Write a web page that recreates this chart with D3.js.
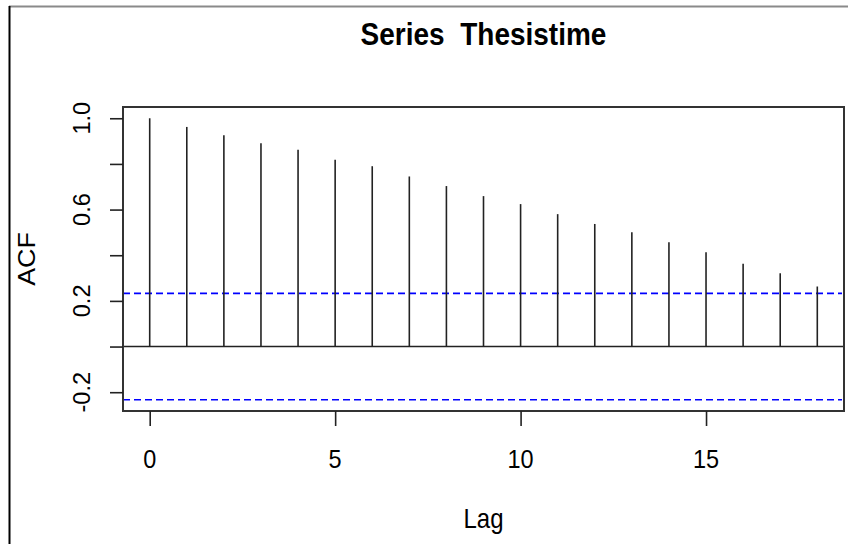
<!DOCTYPE html>
<head>
<title>Series Thesistime</title>
<meta charset="utf-8">
</head>

<style>
body { margin: 0; background: white; }
svg { display: block; }
text { font-family: "Liberation Sans", Arial, sans-serif; fill: #000; }
</style>

<body>
<script src="https://d3js.org/d3.v7.min.js"></script>
<script>

// ACF values
var lags = [0, 1, 2, 3, 4, 5, 6, 7, 8, 9, 10, 11, 12, 13, 14, 15, 16, 17, 18];
var acf  = [1.000, 0.962, 0.926, 0.890, 0.862, 0.818, 0.790, 0.745, 0.703, 0.659,
            0.624, 0.580, 0.537, 0.501, 0.457, 0.413, 0.363, 0.321, 0.263];
var ciLevel = 0.233;
var xTicks = [0, 5, 10, 15];
var yTicks = [-0.2, 0, 0.2, 0.4, 0.6, 0.8, 1.0];
var yLabels = [-0.2, 0.2, 0.6, 1.0];

var width = 848, height = 544;
var box = { left: 123, right: 844, top: 107, bottom: 411 };
var stretch = 1.12; // the screenshot is a bit taller than wide

var svg = d3.select("body")
  .append("svg")
  .attr("width", width)
  .attr("height", height);

// frame of the screenshot
svg.append("line")
  .attr("x1", 9).attr("x2", width).attr("y1", 6.5).attr("y2", 6.5)
  .style("stroke", "#8a8a8a").style("stroke-width", 2);
svg.append("line")
  .attr("x1", 9.5).attr("x2", 9.5).attr("y1", 6).attr("y2", height)
  .style("stroke", "#000").style("stroke-width", 2);

// R style 4% padding on both axes
var xr = [0, 18], yr = [-ciLevel, 1];
var xpad = (xr[1] - xr[0]) * 0.04, ypad = (yr[1] - yr[0]) * 0.04;

var x = d3.scaleLinear()
  .domain([xr[0] - xpad, xr[1] + xpad])
  .range([box.left, box.right]);

var y = d3.scaleLinear()
  .domain([yr[0] - ypad, yr[1] + ypad])
  .range([box.bottom, box.top]);

// confidence bands
svg.append("g")
  .selectAll("line")
  .data([ciLevel, -ciLevel])
  .enter().append("line")
  .attr("x1", box.left).attr("x2", box.right - 2)
  .attr("y1", function(d) { return y(d); })
  .attr("y2", function(d) { return y(d); })
  .style("stroke", "#0000ff")
  .style("stroke-width", 1.6)
  .style("stroke-dasharray", "7,4");

// zero line
svg.append("line")
  .attr("x1", box.left).attr("x2", box.right)
  .attr("y1", y(0)).attr("y2", y(0))
  .style("stroke", "#222").style("stroke-width", 1.6);

// spikes
svg.append("g")
  .selectAll("line")
  .data(lags)
  .enter().append("line")
  .attr("x1", function(d) { return x(d); })
  .attr("x2", function(d) { return x(d); })
  .attr("y1", y(0))
  .attr("y2", function(d, i) { return y(acf[i]); })
  .style("stroke", "#222")
  .style("stroke-width", 1.6);

// plot box
svg.append("rect")
  .attr("x", box.left).attr("y", box.top)
  .attr("width", box.right - box.left)
  .attr("height", box.bottom - box.top)
  .style("fill", "none")
  .style("stroke", "#333")
  .style("stroke-width", 2);

// x axis
var xAxis = svg.append("g")
  .attr("transform", "translate(0," + box.bottom + ")")
  .call(d3.axisBottom(x).tickValues(xTicks).tickSize(15).tickFormat(""));
xAxis.select(".domain").remove();
xAxis.selectAll(".tick line").style("stroke", "#222").style("stroke-width", 1.6);

svg.append("g")
  .selectAll("text")
  .data(xTicks)
  .enter().append("text")
  .attr("transform", function(d) { return "translate(" + x(d) + ",468) scale(1," + stretch + ")"; })
  .attr("text-anchor", "middle")
  .style("font-size", "23.5px")
  .text(function(d) { return d; });

// y axis
var yAxis = svg.append("g")
  .attr("transform", "translate(" + box.left + ",0)")
  .call(d3.axisLeft(y).tickValues(yTicks).tickSize(13).tickFormat(""));
yAxis.select(".domain").remove();
yAxis.selectAll(".tick line").style("stroke", "#222").style("stroke-width", 1.6);

svg.append("g")
  .selectAll("text")
  .data(yLabels)
  .enter().append("text")
  .attr("transform", function(d) { return "translate(90," + y(d) + ") rotate(-90)"; })
  .attr("text-anchor", "middle")
  .style("font-size", "23.5px")
  .text(function(d) { return d3.format(".1f")(d).replace("−", "-"); });

// titles
svg.append("text")
  .attr("transform", "translate(" + (box.left + box.right) / 2 + ",45) scale(1," + stretch + ")")
  .attr("text-anchor", "middle")
  .style("font-size", "28px")
  .style("font-weight", "bold")
  .style("white-space", "pre")
  .text("Series  Thesistime");

svg.append("text")
  .attr("transform", "translate(" + (box.left + box.right) / 2 + ",528) scale(1," + stretch + ")")
  .attr("text-anchor", "middle")
  .style("font-size", "24px")
  .text("Lag");

svg.append("text")
  .attr("transform", "translate(35," + (box.top + box.bottom) / 2 + ") scale(1," + stretch + ") rotate(-90)")
  .attr("text-anchor", "middle")
  .style("font-size", "24px")
  .text("ACF");

</script>
</body>
